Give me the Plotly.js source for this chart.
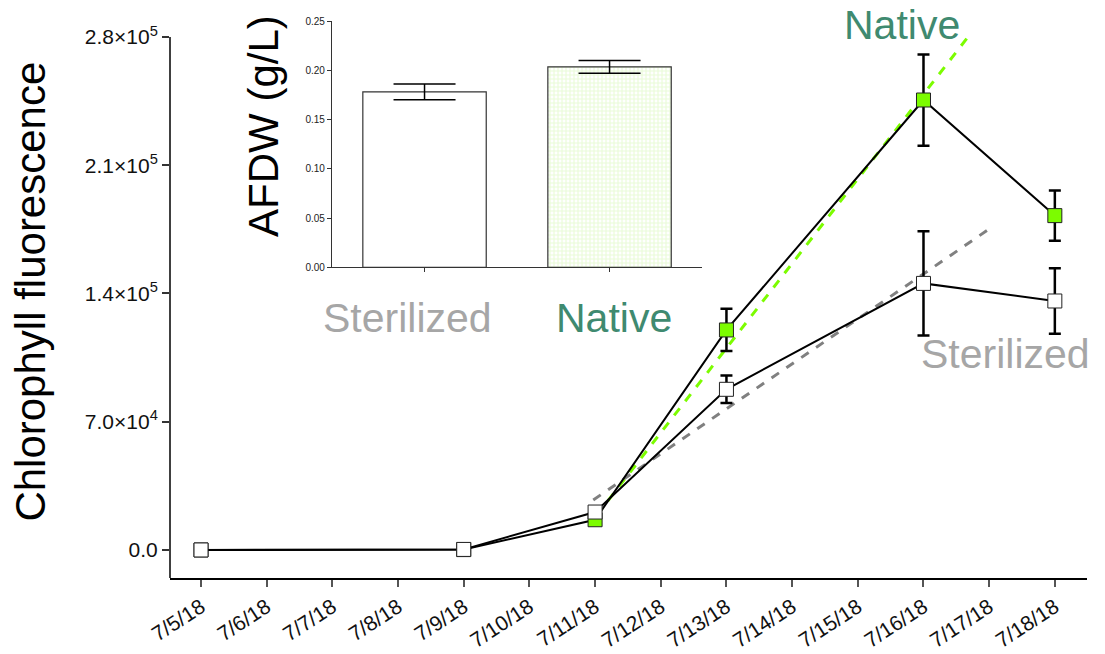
<!DOCTYPE html>
<html>
<head>
<meta charset="utf-8">
<script src="https://cdn.plot.ly/plotly-3.0.1.min.js"></script>
<style>html,body{margin:0;padding:0;background:#fff;}#chart{width:1105px;height:654px;}</style>
</head>
<body>
<div id="chart"></div>
<script>
// ---- Main time-series data ----
const dates = ['2018-07-05', '2018-07-09', '2018-07-11', '2018-07-13', '2018-07-16', '2018-07-18'];
const sterilizedY = [0, 300, 20700, 87700, 145500, 135900];
const sterilizedErr = [0, 300, 1200, 7500, 28400, 17900];
const nativeY = [0, 200, 16500, 120100, 245600, 182500];
const nativeErr = [0, 300, 1000, 11500, 24900, 13700];

// ---- Trend (dashed) lines: endpoints ----
const nativeTrendX = ['2018-07-11 00:40', '2018-07-16 16:00'];
const nativeTrendY = [19100, 279500];
const sterilTrendX = ['2018-07-10 23:20', '2018-07-17 00:00'];
const sterilTrendY = [27300, 175200];

// ---- Y tick labels ----
const yTickVals = [0, 70000, 140000, 210000, 280000];
const yTickText = ['0.0', '7.0×10<sup>4</sup>', '1.4×10<sup>5</sup>', '2.1×10<sup>5</sup>', '2.8×10<sup>5</sup>'];

// ---- Inset AFDW bar data ----
const afdwCats = ['Sterilized', 'Native'];
const afdwVals = [0.178, 0.2035];
const afdwErr = [0.008, 0.0064];
const afdwTicks = [0, 0.05, 0.10, 0.15, 0.20, 0.25];

const FONT = 'Liberation Sans, Arial, sans-serif';
const GREEN = '#7cfc00';
const LABEL_GREEN = '#3f8a70';
const LABEL_GRAY = '#a6a6a6';

const traces = [
  {x: sterilTrendX, y: sterilTrendY, type: 'scatter', mode: 'lines',
   line: {color: '#808080', width: 3, dash: 'dash'}, xaxis: 'x', yaxis: 'y', hoverinfo: 'skip'},
  {x: nativeTrendX, y: nativeTrendY, type: 'scatter', mode: 'lines',
   line: {color: GREEN, width: 3, dash: 'dash'}, xaxis: 'x', yaxis: 'y', hoverinfo: 'skip'},
  {x: dates, y: nativeY, type: 'scatter', mode: 'lines+markers', name: 'Native',
   line: {color: '#000', width: 2},
   marker: {symbol: 'square', size: 14, color: GREEN, line: {color: '#222', width: 1}},
   error_y: {type: 'data', array: nativeErr, visible: true, color: '#000', thickness: 2.5, width: 6},
   xaxis: 'x', yaxis: 'y'},
  {x: dates, y: sterilizedY, type: 'scatter', mode: 'lines+markers', name: 'Sterilized',
   line: {color: '#000', width: 2},
   marker: {symbol: 'square', size: 14, color: '#fff', line: {color: '#222', width: 1}},
   error_y: {type: 'data', array: sterilizedErr, visible: true, color: '#000', thickness: 2.5, width: 6},
   xaxis: 'x', yaxis: 'y'},
  {x: afdwCats, y: afdwVals, type: 'bar', width: 0.667,
   marker: {color: ['#ffffff', '#eafbd8'], line: {color: '#333', width: 1.2},
            pattern: {shape: ['', '+'], fgcolor: '#98e84a', size: 4, solidity: 0.5}},
   error_y: {type: 'data', array: afdwErr, visible: true, color: '#000', thickness: 1.5, width: 31},
   xaxis: 'x2', yaxis: 'y2'}
];

const layout = {
  width: 1105, height: 654,
  margin: {l: 170, r: 18, t: 15, b: 76},
  paper_bgcolor: '#fff', plot_bgcolor: 'rgba(0,0,0,0)',
  showlegend: false,
  font: {family: FONT, color: '#111'},
  xaxis: {
    type: 'date', domain: [0, 1],
    range: ['2018-07-04 12:40', '2018-07-18 11:45'],
    tick0: '2018-07-05', dtick: 86400000, tickformat: '%-m/%-d/%y',
    tickangle: -33, tickfont: {size: 21, family: FONT, color: '#111'},
    ticks: 'outside', ticklen: 7, tickwidth: 1.5, tickcolor: '#555',
    showline: true, linecolor: '#000', linewidth: 1.5,
    showgrid: false, zeroline: false, anchor: 'y'
  },
  yaxis: {
    range: [-15300, 292000],
    tickmode: 'array', tickvals: yTickVals, ticktext: yTickText,
    tickfont: {size: 21, family: FONT, color: '#111'},
    ticks: 'outside', ticklen: 7, tickwidth: 1.5, tickcolor: '#333',
    showline: false, showgrid: false, zeroline: false, anchor: 'x'
  },
  xaxis2: {
    domain: [0.1767, 0.5802], anchor: 'y2', range: [-0.5, 1.5],
    type: 'category', showticklabels: false,
    ticks: 'outside', ticklen: 4, tickwidth: 1, tickcolor: '#333',
    showline: true, linecolor: '#333', linewidth: 1.2, showgrid: false, zeroline: false
  },
  yaxis2: {
    domain: [0.5519, 0.9893], anchor: 'x2', range: [0, 0.25],
    tickmode: 'array', tickvals: afdwTicks, tickformat: '.2f',
    tickfont: {size: 10, family: FONT, color: '#222'},
    ticks: 'outside', ticklen: 4, tickwidth: 1, tickcolor: '#333',
    showline: true, linecolor: '#333', linewidth: 1.2, showgrid: false, zeroline: false
  },
  shapes: [
    {type: 'line', xref: 'paper', yref: 'y', x0: 0, x1: 0, y0: -15300, y1: 280000,
     line: {color: '#000', width: 1.5}}
  ],
  annotations: [
    {text: 'Chlorophyll fluorescence', xref: 'paper', yref: 'paper', x: -0.152, y: 0.508,
     textangle: -90, showarrow: false, xanchor: 'center', yanchor: 'middle',
     font: {size: 42, family: FONT, color: '#000'}},
    {text: 'AFDW (g/L)', xref: 'paper', yref: 'paper', x: 0.1025, y: 0.803,
     textangle: -90, showarrow: false, xanchor: 'center', yanchor: 'middle',
     font: {size: 42, family: FONT, color: '#000'}},
    {text: 'Native', xref: 'paper', yref: 'paper', x: 0.7985, y: 0.982,
     showarrow: false, xanchor: 'center', yanchor: 'middle',
     font: {size: 41, family: FONT, color: LABEL_GREEN}},
    {text: 'Sterilized', xref: 'paper', yref: 'paper', x: 0.911, y: 0.398,
     showarrow: false, xanchor: 'center', yanchor: 'middle',
     font: {size: 41, family: FONT, color: LABEL_GRAY}},
    {text: 'Sterilized', xref: 'paper', yref: 'paper', x: 0.2585, y: 0.462,
     showarrow: false, xanchor: 'center', yanchor: 'middle',
     font: {size: 41, family: FONT, color: LABEL_GRAY}},
    {text: 'Native', xref: 'paper', yref: 'paper', x: 0.4842, y: 0.462,
     showarrow: false, xanchor: 'center', yanchor: 'middle',
     font: {size: 41, family: FONT, color: LABEL_GREEN}}
  ]
};

Plotly.newPlot('chart', traces, layout, {displayModeBar: false, responsive: false});
</script>
</body>
</html>
